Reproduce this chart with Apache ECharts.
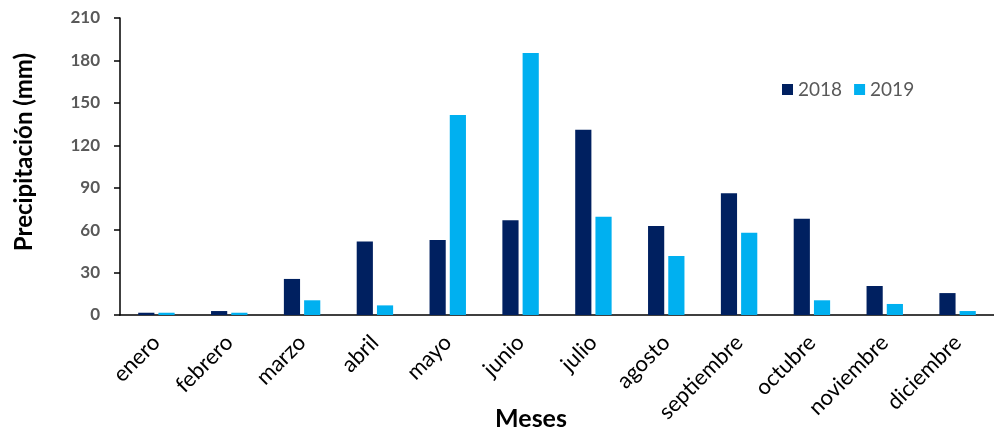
<!DOCTYPE html>
<html>
<head>
<meta charset="utf-8">
<script src="https://cdn.jsdelivr.net/npm/echarts@6/dist/echarts.min.js"></script>
<style>
html,body{margin:0;padding:0;background:#fff;}
#chart{width:994px;height:429px;}
</style>
</head>
<body>
<div id="chart"></div>
<script>
var categories = ['enero','febrero','marzo','abril','mayo','junio','julio','agosto','septiembre','octubre','noviembre','diciembre'];
var values2018 = [1.6, 2.8, 25.5, 52, 53, 67, 131, 63, 86, 68, 20.5, 15.5];
var values2019 = [1.6, 1.6, 10.4, 6.8, 141.4, 185.3, 69.5, 41.7, 58.2, 10.4, 7.8, 2.8];
var seriesNames = ['2018', '2019'];
var yTicks = [0, 30, 60, 90, 120, 150, 180, 210];

var FONT = 'Lato, "Open Sans", sans-serif';
var chart = echarts.init(document.getElementById('chart'), null, {renderer: 'canvas'});
chart.setOption({
  animation: false,
  backgroundColor: '#ffffff',
  textStyle: {fontFamily: FONT},
  grid: {left: 120, right: -8, top: 18, bottom: 114, containLabel: false},
  legend: {
    data: seriesNames,
    left: 777, top: 75,
    itemWidth: 11, itemHeight: 11, itemGap: 12,
    icon: 'rect',
    textStyle: {color: '#595959', fontSize: 19, fontFamily: FONT}
  },
  xAxis: {
    type: 'category',
    data: categories,
    axisLine: {show: true, lineStyle: {color: '#000', width: 1.5}},
    axisTick: {show: false},
    axisLabel: {rotate: 45, color: '#000', fontSize: 22, fontFamily: FONT, margin: 24, interval: 0}
  },
  yAxis: {
    type: 'value',
    min: yTicks[0], max: yTicks[yTicks.length - 1], interval: 30,
    axisLine: {show: true, lineStyle: {color: '#000', width: 1.5}},
    axisTick: {show: true, inside: false, length: 6, lineStyle: {color: '#000', width: 1.5}},
    splitLine: {show: false},
    axisLabel: {color: '#595959', fontSize: 17, fontWeight: 'bold', fontFamily: FONT, margin: 20}
  },
  series: [
    {name: seriesNames[0], type: 'bar', data: values2018, barGap: '25%', barCategoryGap: '50%',
     itemStyle: {color: '#002060'}},
    {name: seriesNames[1], type: 'bar', data: values2019, barGap: '25%', barCategoryGap: '50%',
     itemStyle: {color: '#00B0F0'}}
  ],
  graphic: [
    {type: 'text', x: 24, y: 152, rotation: Math.PI / 2,
     style: {text: 'Precipitación (mm)', font: 'bold 24px ' + FONT, fill: '#000', textAlign: 'center', textVerticalAlign: 'middle'}},
    {type: 'text', x: 531, y: 419,
     style: {text: 'Meses', font: 'bold 25px ' + FONT, fill: '#000', textAlign: 'center', textVerticalAlign: 'middle'}}
  ]
});
</script>
</body>
</html>
